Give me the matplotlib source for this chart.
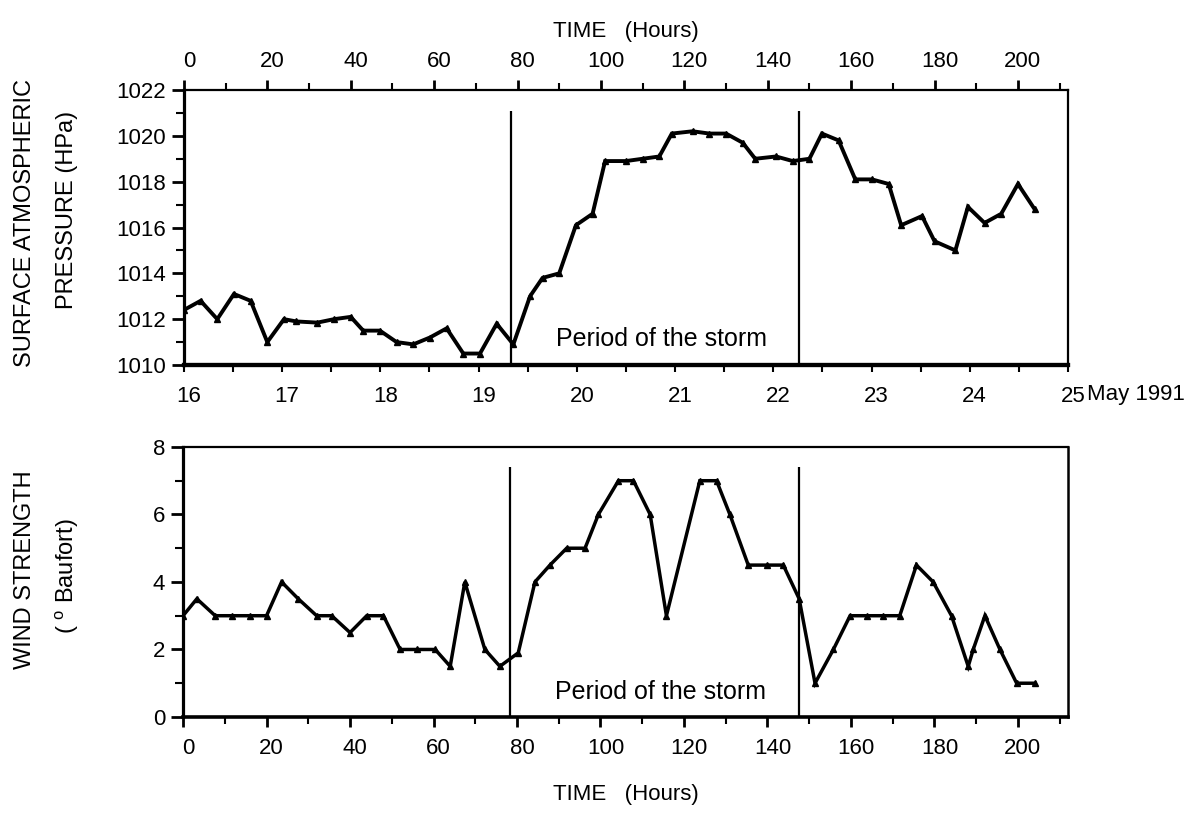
import matplotlib
matplotlib.use("Agg")
import matplotlib.pyplot as plt
from matplotlib.ticker import MultipleLocator
from matplotlib.transforms import ScaledTranslation

plt.rcParams["font.family"] = ["Liberation Sans", "DejaVu Sans"]
plt.rcParams["mathtext.fontset"] = "custom"
plt.rcParams["mathtext.rm"] = "Liberation Sans"
plt.rcParams["mathtext.it"] = "Liberation Sans:italic"

# Surface atmospheric pressure (hPa) against time (hours)
hours_p = [0, 4, 8, 12, 16, 20, 24, 27, 32, 36, 40, 43, 47, 51, 55, 59, 63,
           67, 71, 75, 79, 83, 86, 90, 94, 98, 101, 106, 110, 114, 117, 122,
           126, 130, 134, 137, 142, 146, 150, 153, 157, 161, 165, 169, 172,
           177, 180, 185, 188, 192, 196, 200, 204]
pressure = [1012.4, 1012.8, 1012.0, 1013.1, 1012.8, 1011.0, 1012.0, 1011.9,
            1011.85, 1012.0, 1012.1, 1011.5, 1011.5, 1011.0, 1010.9, 1011.2,
            1011.6, 1010.5, 1010.5, 1011.8, 1010.9, 1013.0, 1013.8, 1014.0,
            1016.1, 1016.6, 1018.9, 1018.9, 1019.0, 1019.1, 1020.1, 1020.2,
            1020.1, 1020.1, 1019.7, 1019.0, 1019.1, 1018.9, 1019.0, 1020.1,
            1019.8, 1018.1, 1018.1, 1017.9, 1016.1, 1016.5, 1015.4, 1015.0,
            1016.9, 1016.2, 1016.6, 1017.9, 1016.8]

# Wind strength (Beaufort) against time (hours)
hours_w = [0, 3.3, 7.7, 11.7, 16, 20, 23.6, 27.6, 32, 35.6, 40, 44, 48, 52,
           56, 60.4, 64, 67.5, 72.3, 75.9, 80.3, 84.3, 87.9, 91.9, 96.3, 99.5,
           104.3, 107.9, 111.9, 115.8, 123.8, 127.8, 131, 135.4, 139.8, 143.8,
           147.6, 151.4, 155.8, 159.8, 163.8, 167.7, 171.7, 175.7, 179.7,
           184.1, 188.1, 189.3, 192.1, 195.7, 199.7, 204.1]
wind = [3, 3.5, 3, 3, 3, 3, 4, 3.5, 3, 3, 2.5, 3, 3, 2, 2, 2, 1.5, 4, 2, 1.5,
        1.9, 4, 4.5, 5, 5, 6, 7, 7, 6, 3, 7, 7, 6, 4.5, 4.5, 4.5, 3.5, 1, 2,
        3, 3, 3, 3, 4.5, 4, 3, 1.5, 2, 3, 2, 1, 1]

# Start and end of the storm (hours)
storm_start = 78.4
storm_end = 147.6

hour_ticks = list(range(0, 201, 20))
pressure_ticks = list(range(1010, 1023, 2))
wind_ticks = [0, 2, 4, 6, 8]
days = [16, 17, 18, 19, 20, 21, 22, 23, 24, 25]
day_labels = ["16", "17", "18", "19", "20", "21", "22", "23", "24", "25"]

HOUR_MAX = 212
TICK_FS = 16

fig = plt.figure(figsize=(12.02, 8.14), dpi=100)
ax1 = fig.add_axes([0.153, 0.5516, 0.7355, 0.3378])
ax2 = fig.add_axes([0.1523, 0.1192, 0.7362, 0.3317])

# x tick labels sit a few pixels right of their ticks
label_shift = ScaledTranslation(5 / 100, 0, fig.dpi_scale_trans)


def shift_labels(labels):
    for lab in labels:
        lab.set_transform(lab.get_transform() + label_shift)


def style_spines(ax, left, bottom, top, right):
    ax.spines["left"].set_linewidth(left)
    ax.spines["bottom"].set_linewidth(bottom)
    ax.spines["top"].set_linewidth(top)
    ax.spines["right"].set_linewidth(right)


# ---- pressure panel ----
ax1.plot(hours_p, pressure, color="black", lw=2.8, marker="^", ms=4.5,
         solid_joinstyle="miter")
ax1.set_xlim(0, HOUR_MAX)
ax1.set_ylim(1010, 1022)
ax1.vlines([storm_start, storm_end], 1010, 1021.1, color="black", lw=1.6)
ax1.text(114.5, 1011.15, "Period of the storm", fontsize=18,
         ha="center", va="center")

ax1.xaxis.set_ticks_position("top")
ax1.xaxis.set_label_position("top")
ax1.set_xticks(hour_ticks)
ax1.xaxis.set_minor_locator(MultipleLocator(10))
ax1.set_yticks(pressure_ticks)
ax1.yaxis.set_minor_locator(MultipleLocator(1))
ax1.tick_params(axis="x", which="major", direction="out", length=7, width=2,
                labelsize=TICK_FS, pad=6)
ax1.tick_params(axis="x", which="minor", direction="out", length=5, width=1.5)
ax1.tick_params(axis="y", which="major", direction="out", length=9, width=2,
                labelsize=TICK_FS, pad=4)
ax1.tick_params(axis="y", which="minor", direction="out", length=6, width=1.5)
ax1.set_xlabel("TIME   (Hours)", fontsize=16, labelpad=10)
style_spines(ax1, 2.3, 3.0, 1.6, 1.6)
shift_labels(ax1.get_xticklabels())

# calendar day axis along the bottom edge of the pressure panel
date_ax = ax1.secondary_xaxis(
    "bottom",
    functions=(lambda h: 16 + h * 9 / HOUR_MAX,
               lambda d: (d - 16) * HOUR_MAX / 9))
date_ax.set_xticks(days)
date_ax.set_xticklabels(day_labels)
date_ax.xaxis.set_minor_locator(MultipleLocator(0.5))
date_ax.tick_params(axis="x", which="major", direction="out", length=5,
                    width=1.5, labelsize=TICK_FS, pad=10)
date_ax.tick_params(axis="x", which="minor", direction="out", length=5,
                    width=1.5)
date_ax.spines["bottom"].set_linewidth(3.0)
shift_labels(date_ax.get_xticklabels())
fig.text(1087 / 1202, 1 - 394 / 814, "May 1991", fontsize=TICK_FS,
         ha="left", va="center")

# ---- wind panel ----
ax2.plot(hours_w, wind, color="black", lw=2.5, marker="^", ms=4.5,
         solid_joinstyle="miter")
ax2.set_xlim(0, HOUR_MAX)
ax2.set_ylim(0, 8)
ax2.vlines([storm_start, storm_end], 0, 7.4, color="black", lw=1.6)
ax2.text(114.3, 0.75, "Period of the storm", fontsize=18,
         ha="center", va="center")

ax2.set_xticks(hour_ticks)
ax2.xaxis.set_minor_locator(MultipleLocator(10))
ax2.set_yticks(wind_ticks)
ax2.yaxis.set_minor_locator(MultipleLocator(1))
ax2.tick_params(axis="x", which="major", direction="out", length=7, width=2,
                labelsize=TICK_FS, pad=8)
ax2.tick_params(axis="x", which="minor", direction="out", length=5, width=1.5)
ax2.tick_params(axis="y", which="major", direction="out", length=9, width=2,
                labelsize=TICK_FS, pad=4)
ax2.tick_params(axis="y", which="minor", direction="out", length=6, width=1.5)
ax2.set_xlabel("TIME   (Hours)", fontsize=16, labelpad=18)
style_spines(ax2, 2.3, 2.6, 1.6, 1.8)
shift_labels(ax2.get_xticklabels())

# ---- vertical axis titles ----
fig.text(25 / 1202, 1 - 223 / 814, "SURFACE ATMOSPHERIC", fontsize=17,
         rotation=90, ha="center", va="center")
fig.text(67 / 1202, 1 - 210 / 814, "PRESSURE (HPa)", fontsize=17,
         rotation=90, ha="center", va="center")
fig.text(25 / 1202, 1 - 570 / 814, "WIND STRENGTH", fontsize=17,
         rotation=90, ha="center", va="center")
fig.text(67 / 1202, 1 - 576 / 814, r"( $^{\mathrm{o}}$ Baufort)", fontsize=17,
         rotation=90, ha="center", va="center")

fig.savefig("out.png", dpi=100, facecolor="white")
